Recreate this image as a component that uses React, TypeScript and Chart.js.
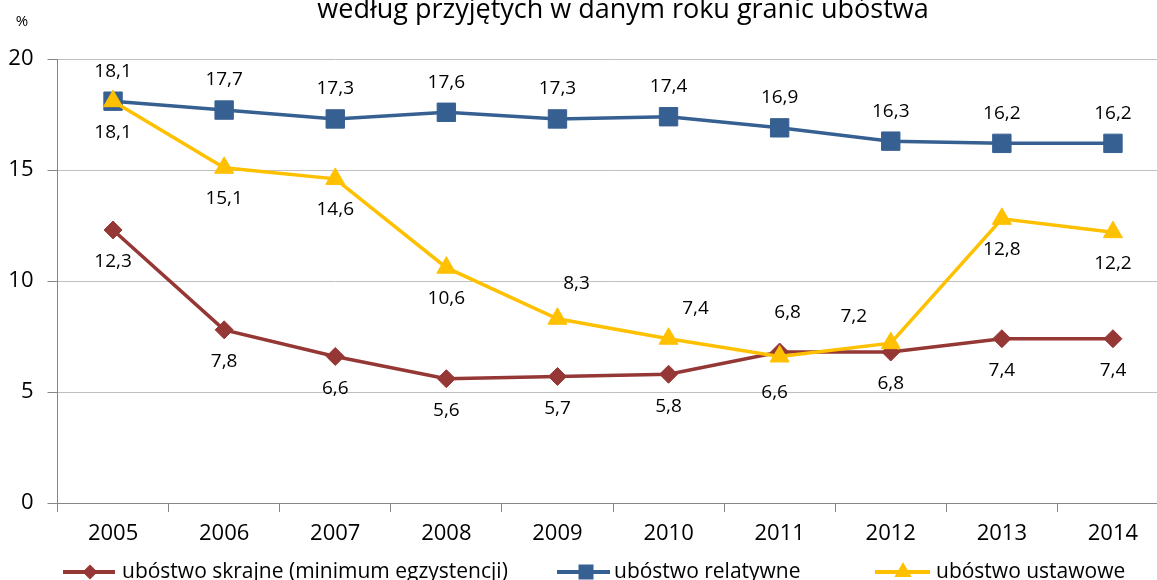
import React, { useEffect, useRef } from "react";
import { Chart, registerables } from "chart.js";

Chart.register(...registerables);

const years = ["2005", "2006", "2007", "2008", "2009", "2010", "2011", "2012", "2013", "2014"];
const extreme = [12.3, 7.8, 6.6, 5.6, 5.7, 5.8, 6.8, 6.8, 7.4, 7.4];
const relative = [18.1, 17.7, 17.3, 17.6, 17.3, 17.4, 16.9, 16.3, 16.2, 16.2];
const statutory = [18.1, 15.1, 14.6, 10.6, 8.3, 7.4, 6.6, 7.2, 12.8, 12.2];
const seriesNames = ["ubóstwo skrajne (minimum egzystencji)", "ubóstwo relatywne", "ubóstwo ustawowe"];
const yTicks = [0, 5, 10, 15, 20];
const titleText = "według przyjętych w danym roku granic ubóstwa";
const unitText = "%";

const RED = "#953735";
const BLUE = "#376092";
const YELLOW = "#FFC000";
const FONT = "'Open Sans', sans-serif";

// label placement: default per dataset, with overrides [datasetIndex, pointIndex] -> [dx, dy]
const defaultOffsets = [32, -30, 31];
const labelOverrides: Record<string, [number, number]> = {
  "0-6": [8, -39],
  "2-4": [19, -35],
  "2-5": [27, -30],
  "2-6": [-5, 36],
  "2-7": [-37, -27],
};

const fmt = (v: number) => v.toFixed(1).replace(".", ",");

function drawMarker(ctx: CanvasRenderingContext2D, style: string, r: number, x: number, y: number) {
  ctx.beginPath();
  if (style === "rectRot") {
    ctx.moveTo(x - r, y);
    ctx.lineTo(x, y - r);
    ctx.lineTo(x + r, y);
    ctx.lineTo(x, y + r);
    ctx.closePath();
  } else if (style === "rect") {
    const s = r * Math.SQRT1_2;
    ctx.rect(x - s, y - s, 2 * s, 2 * s);
  } else {
    ctx.moveTo(x, y - r);
    ctx.lineTo(x + r * Math.sin(Math.PI / 3), y + r / 2);
    ctx.lineTo(x - r * Math.sin(Math.PI / 3), y + r / 2);
    ctx.closePath();
  }
  ctx.fill();
}

const extrasPlugin = {
  id: "extras",
  afterDatasetsDraw(chart: any) {
    const ctx = chart.ctx;
    ctx.save();
    ctx.font = `19px ${FONT}`;
    ctx.fillStyle = "#000";
    ctx.textAlign = "center";
    ctx.textBaseline = "middle";
    chart.data.datasets.forEach((ds: any, di: number) => {
      const meta = chart.getDatasetMeta(di);
      meta.data.forEach((pt: any, i: number) => {
        const ov = labelOverrides[`${di}-${i}`];
        const dx = ov ? ov[0] : 0;
        const dy = ov ? ov[1] : defaultOffsets[di];
        ctx.fillText(fmt(ds.data[i]), pt.x + dx, pt.y + dy);
      });
    });
    ctx.restore();
  },
  afterDraw(chart: any) {
    const ctx = chart.ctx;
    ctx.save();
    // title (second line, partially cropped)
    ctx.font = `27px ${FONT}`;
    ctx.fillStyle = "#000";
    ctx.textAlign = "center";
    ctx.textBaseline = "alphabetic";
    ctx.fillText(titleText, 623, 17.5);
    // unit
    ctx.font = `15px ${FONT}`;
    ctx.textBaseline = "middle";
    ctx.fillText(unitText, 22, 22);
    // legend
    const items = [
      { color: RED, style: "rectRot", r: 7.5, x0: 63, x1: 115, mx: 90, tx: 122 },
      { color: BLUE, style: "rect", r: 10.6, x0: 557, x1: 610, mx: 586, tx: 614 },
      { color: YELLOW, style: "triangle", r: 10, x0: 875, x1: 930, mx: 903, tx: 936 },
    ];
    const ly = 572;
    items.forEach((it, i) => {
      ctx.strokeStyle = it.color;
      ctx.lineWidth = 4;
      ctx.beginPath();
      ctx.moveTo(it.x0, ly);
      ctx.lineTo(it.x1, ly);
      ctx.stroke();
      ctx.fillStyle = it.color;
      drawMarker(ctx, it.style, it.r, it.mx, ly);
      ctx.fillStyle = "#000";
      ctx.font = `21px ${FONT}`;
      ctx.textAlign = "left";
      ctx.textBaseline = "middle";
      ctx.fillText(seriesNames[i], it.tx, ly);
    });
    ctx.restore();
  },
};

export default function App() {
  const ref = useRef<HTMLCanvasElement>(null);
  useEffect(() => {
    if (!ref.current) return;
    const mk = (label: string, data: number[], color: string, style: string, r: number, order: number) => ({
      label,
      data,
      borderColor: color,
      backgroundColor: color,
      borderWidth: 3.5,
      pointStyle: style,
      pointRadius: r,
      pointBorderWidth: 1,
      pointBackgroundColor: color,
      pointBorderColor: color,
      tension: 0,
      order,
    });
    const chart = new Chart(ref.current, {
      type: "line",
      data: {
        labels: years,
        datasets: [
          mk(seriesNames[0], extreme, RED, "rectRot", 9, 2),
          mk(seriesNames[1], relative, BLUE, "rect", 13, 1),
          mk(seriesNames[2], statutory, YELLOW, "triangle", 11, 0),
        ],
      },
      options: {
        responsive: false,
        animation: false,
        devicePixelRatio: 1,
        layout: { autoPadding: false, padding: { top: 59, right: 1.5, bottom: 0, left: 0 } },
        plugins: {
          legend: { display: false },
          title: { display: false },
          tooltip: { enabled: false },
        },
        scales: {
          x: {
            type: "category",
            offset: true,
            grid: {
              offset: true,
              drawOnChartArea: false,
              drawTicks: true,
              tickLength: 9,
              color: "#868686",
              tickColor: "#868686",
            },
            border: { color: "#868686", width: 1 },
            ticks: {
              font: { family: FONT, size: 22 },
              color: "#000",
              padding: 9,
              maxRotation: 0,
              autoSkip: false,
            },
            afterFit: (s: any) => {
              s.height = 77;
              s.paddingLeft = 0;
              s.paddingRight = 0;
            },
          },
          y: {
            min: 0,
            max: 20,
            afterBuildTicks: (s: any) => {
              s.ticks = yTicks.map((v) => ({ value: v }));
            },
            grid: {
              color: "#BFBFBF",
              lineWidth: 1,
              drawTicks: true,
              tickLength: 10,
              tickColor: "#868686",
            },
            border: { color: "#868686", width: 1 },
            ticks: {
              font: { family: FONT, size: 22 },
              color: "#000",
              padding: 14,
            },
            afterFit: (s: any) => {
              s.width = 57.5;
              s.paddingTop = 0;
              s.paddingBottom = 0;
            },
          },
        },
      },
      plugins: [extrasPlugin],
    } as any);
    return () => chart.destroy();
  }, []);
  return (
    <div style={{ position: "fixed", left: 0, top: 0, width: 1170, height: 580 }}>
      <canvas ref={ref} width={1170} height={580} style={{ display: "block" }} />
    </div>
  );
}
